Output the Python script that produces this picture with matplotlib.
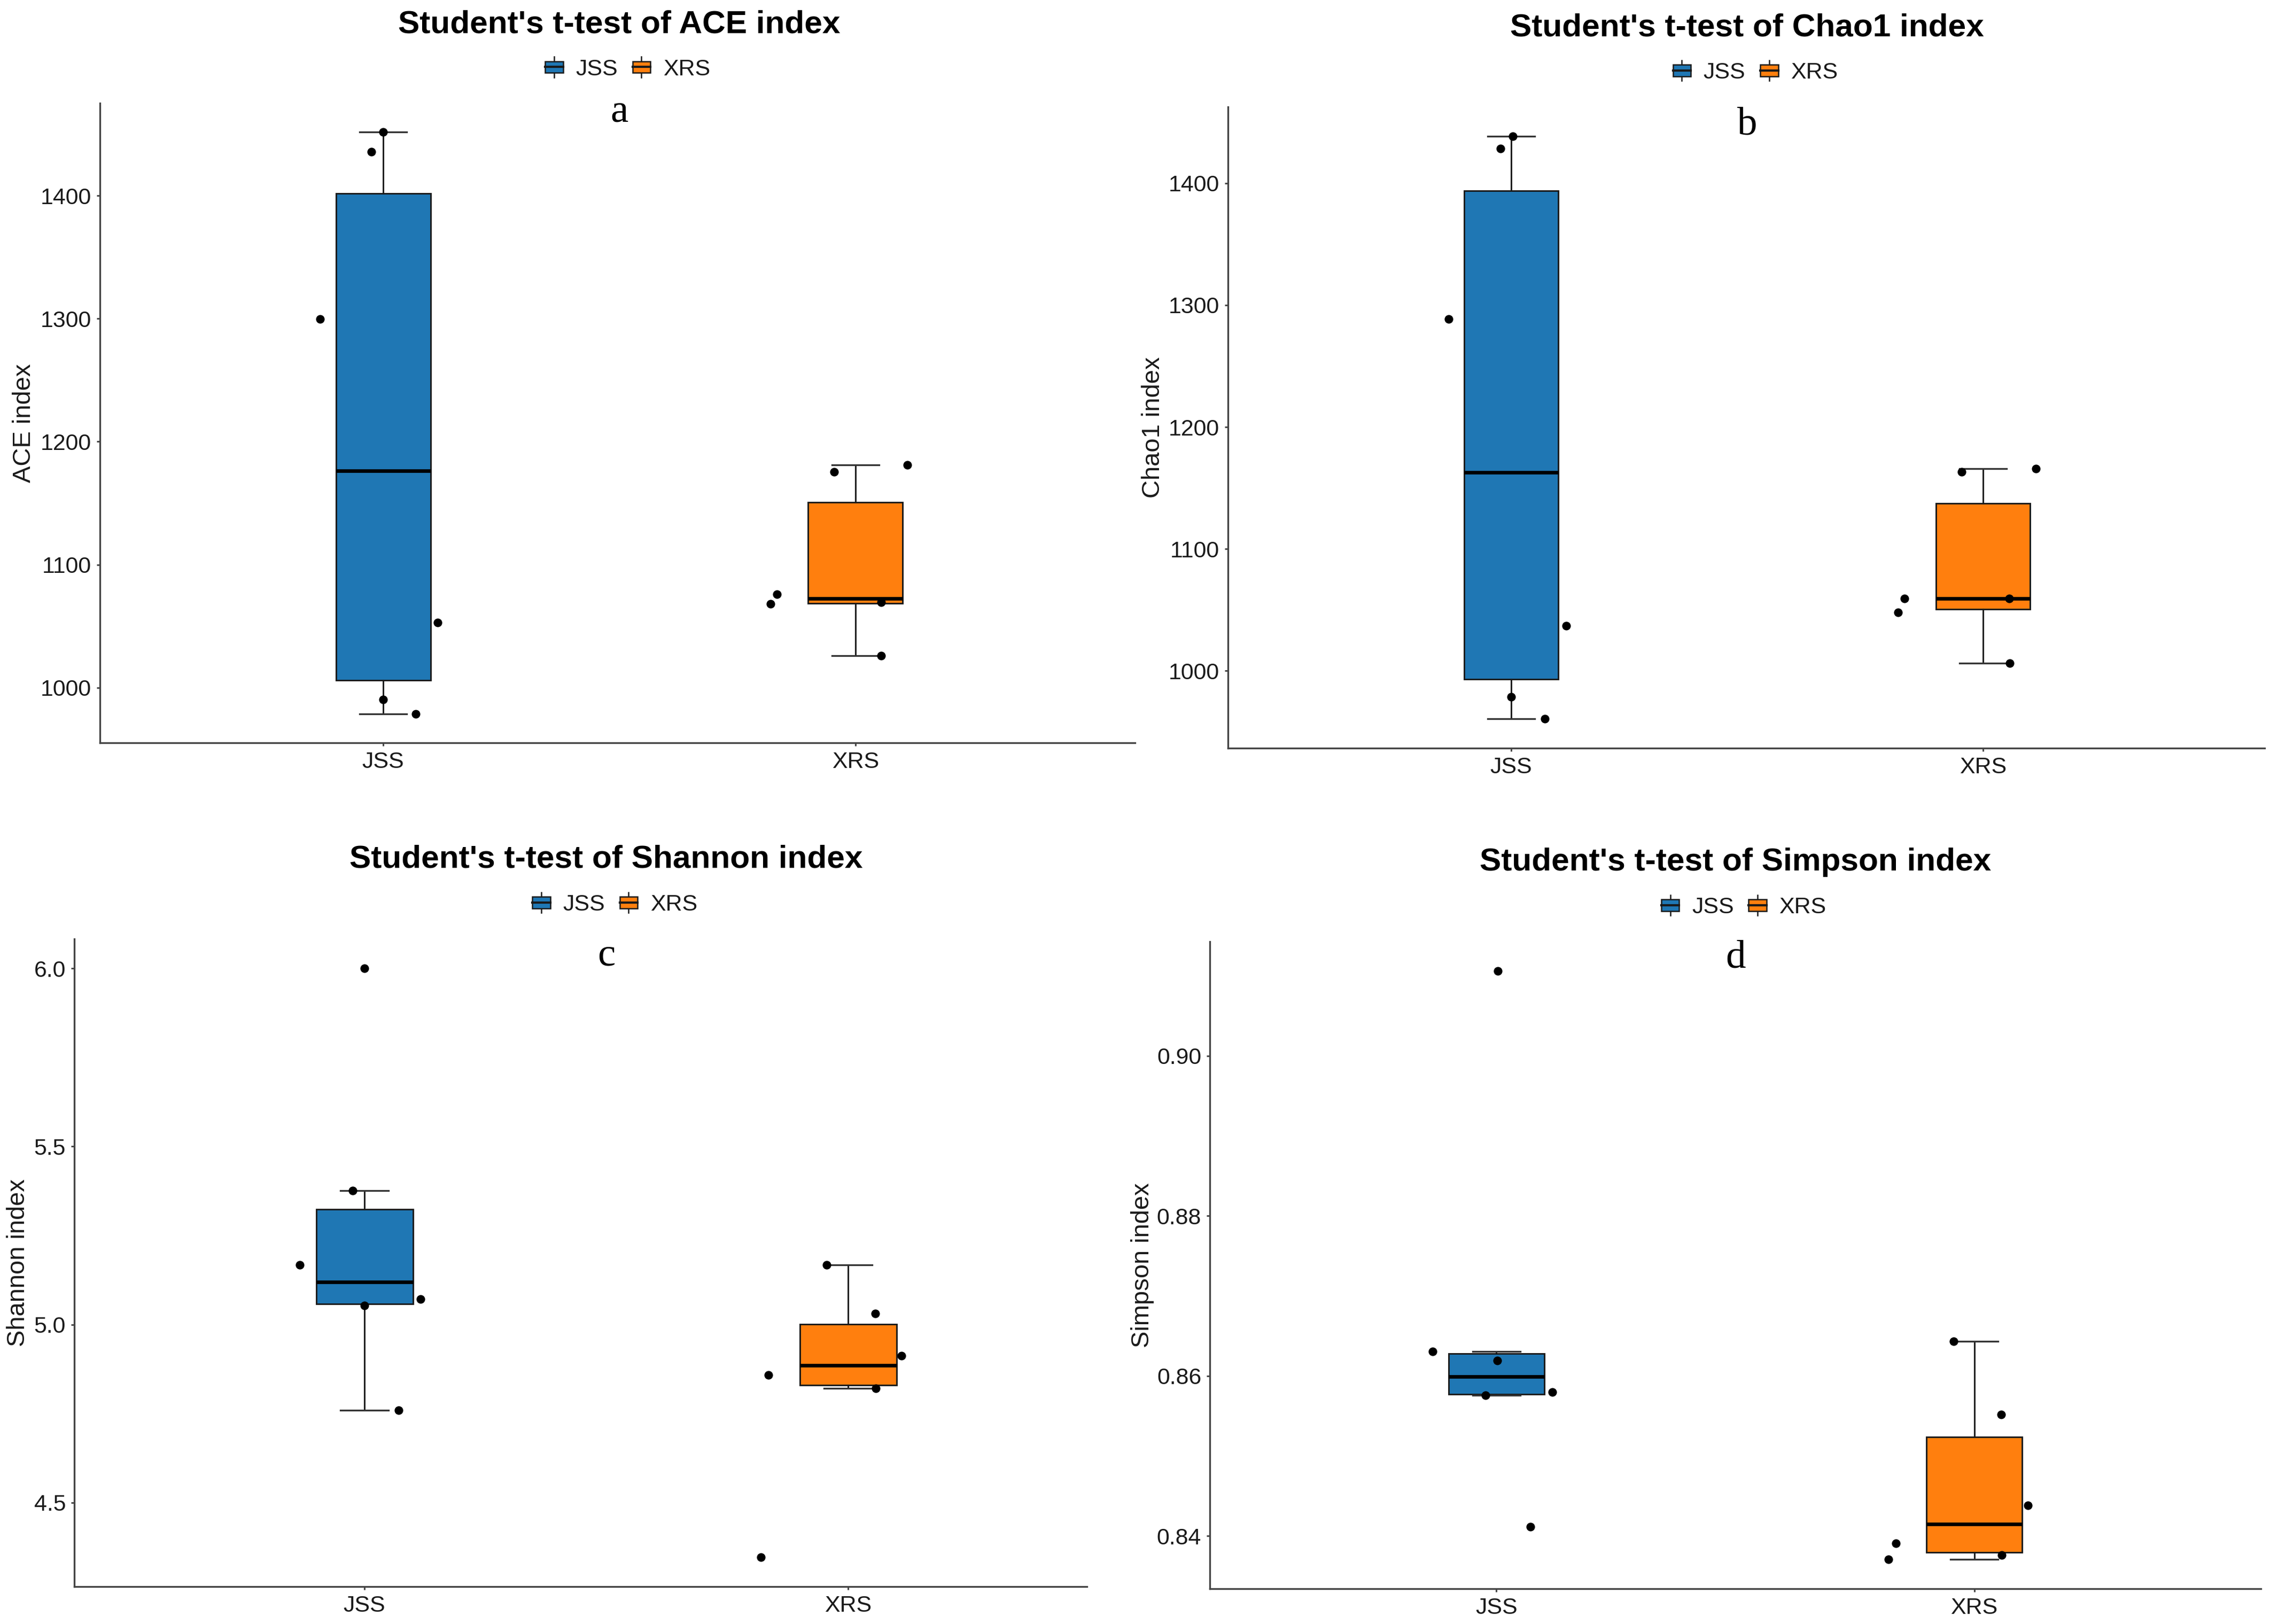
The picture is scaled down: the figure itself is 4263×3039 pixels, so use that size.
import matplotlib
matplotlib.use('Agg')
import matplotlib.pyplot as plt
from matplotlib.patches import Rectangle, Patch
from matplotlib.lines import Line2D
from matplotlib.legend_handler import HandlerBase
import numpy as np

# ---------------- data ----------------
groups = ['JSS', 'XRS']
group_colors = ['#1F77B4', '#FF7F0E']

ace_jss = [1451.6, 1435.8, 1299.7, 1052.9, 990.4, 978.8]
ace_xrs = [1175.6, 1181.0, 1068.3, 1075.8, 1069.5, 1025.8]
ace_jit_jss = [0.0, -0.025, -0.134, 0.115, 0.0, 0.069]
ace_jit_xrs = [-0.045, 0.11, -0.18, -0.166, 0.054, 0.055]

chao_jss = [1438.7, 1428.6, 1288.7, 1037.0, 978.6, 960.5]
chao_xrs = [1163.4, 1166.0, 1047.9, 1059.2, 1059.2, 1006.3]
chao_jit_jss = [0.003, -0.023, -0.132, 0.117, 0.0, 0.072]
chao_jit_xrs = [-0.045, 0.112, -0.18, -0.166, 0.055, 0.057]

shan_jss = [6.0, 5.3755, 5.168, 5.072, 5.054, 4.760]
shan_xrs = [5.168, 5.031, 4.913, 4.859, 4.821, 4.347]
shan_jit_jss = [0.0, -0.024, -0.134, 0.116, 0.0, 0.071]
shan_jit_xrs = [-0.044, 0.056, 0.111, -0.165, 0.057, -0.18]

simp_jss = [0.9106, 0.86306, 0.86189, 0.85759, 0.85798, 0.84111]
simp_xrs = [0.8643, 0.85518, 0.84384, 0.83909, 0.83759, 0.83707]
simp_jit_jss = [0.003, -0.134, 0.0015, -0.023, 0.117, 0.071]
simp_jit_xrs = [-0.043, 0.056, 0.112, -0.164, 0.058, -0.18]

ticks_ace = [1000, 1100, 1200, 1300, 1400]
ticks_chao = [1000, 1100, 1200, 1300, 1400]
ticks_shan = [4.5, 5.0, 5.5, 6.0]
ticks_simp = [0.84, 0.86, 0.88, 0.90]
labels_ace = ['1000', '1100', '1200', '1300', '1400']
labels_chao = ['1000', '1100', '1200', '1300', '1400']
labels_shan = ['4.5', '5.0', '5.5', '6.0']
labels_simp = ['0.84', '0.86', '0.88', '0.90']

titles = ["Student's t-test of ACE index", "Student's t-test of Chao1 index",
          "Student's t-test of Shannon index", "Student's t-test of Simpson index"]
ylabels = ['ACE index', 'Chao1 index', 'Shannon index', 'Simpson index']
letters = ['a', 'b', 'c', 'd']

# ---------------- figure ----------------
W, H = 4263, 3039
DPI = 300
fig = plt.figure(figsize=(W / DPI, H / DPI), dpi=DPI)
fig.patch.set_facecolor('white')

SANS = ['Liberation Sans', 'DejaVu Sans']
SERIF = ['Liberation Serif', 'DejaVu Serif']


class BoxKey(HandlerBase):
    def create_artists(self, legend, orig_handle, xdescent, ydescent,
                       width, height, fontsize, trans):
        fc = orig_handle.get_facecolor()
        x0, y0 = -xdescent, -ydescent
        bh = height * 0.8
        by = y0 + (height - bh) / 2
        rect = Rectangle((x0, by), width, bh, facecolor=fc,
                         edgecolor='#1a1a1a', linewidth=0.6, transform=trans)
        cx = x0 + width / 2
        med = Line2D([x0, x0 + width], [by + bh / 2] * 2, color='#1a1a1a',
                     linewidth=1.0, transform=trans)
        w1 = Line2D([cx, cx], [by - height * 0.3, by], color='#1a1a1a',
                    linewidth=0.6, transform=trans)
        w2 = Line2D([cx, cx], [by + bh, by + bh + height * 0.3], color='#1a1a1a',
                    linewidth=0.6, transform=trans)
        return [w1, w2, rect, med]


def px_axes(l, t, r, b):
    return fig.add_axes([l / W, 1 - b / H, (r - l) / W, (b - t) / H])


XLIM = (0.4, 2.6)

panels = [
    dict(rect=(187, 193, 2131, 1390), spine_end=2124, jss=ace_jss, xrs=ace_xrs,
         jj=ace_jit_jss, jx=ace_jit_xrs, ticks=ticks_ace, tlabels=labels_ace,
         ylab_off=142, letter_y=0.971),
    dict(rect=(2298, 200, 4241, 1400), spine_end=4238, jss=chao_jss, xrs=chao_xrs,
         jj=chao_jit_jss, jx=chao_jit_xrs, ticks=ticks_chao, tlabels=labels_chao,
         ylab_off=140, letter_y=0.957),
    dict(rect=(139, 1757, 2130, 2969), spine_end=2034, jss=shan_jss, xrs=shan_xrs,
         jj=shan_jit_jss, jx=shan_jit_xrs, ticks=ticks_shan, tlabels=labels_shan,
         ylab_off=105, letter_y=0.959),
    dict(rect=(2264, 1762, 4231, 2973), spine_end=4231, jss=simp_jss, xrs=simp_xrs,
         jj=simp_jit_jss, jx=simp_jit_xrs, ticks=ticks_simp, tlabels=labels_simp,
         ylab_off=126, letter_y=0.960),
]

positions = [1, 2]
for i, p in enumerate(panels):
    ax = px_axes(*p['rect'])
    l, t, r, b = p['rect']
    axw = r - l
    data = [p['jss'], p['xrs']]
    bp = ax.boxplot(data, positions=positions, widths=0.2, patch_artist=True,
                    showfliers=False, capwidths=0.1, whis=1.5,
                    boxprops=dict(linewidth=0.7, edgecolor='#1a1a1a'),
                    medianprops=dict(color='black', linewidth=1.6),
                    whiskerprops=dict(color='#1a1a1a', linewidth=0.7),
                    capprops=dict(color='#333333', linewidth=0.8))
    for patch, c in zip(bp['boxes'], group_colors):
        patch.set_facecolor(c)
    jit = [p['jj'], p['jx']]
    for pos, vals, jj in zip(positions, data, jit):
        ax.scatter(np.array(jj) + pos, vals, s=15, color='black', zorder=5,
                   linewidths=0)
    ax.set_xlim(*XLIM)
    ax.set_yticks(p['ticks'])
    ax.set_yticklabels(p['tlabels'])
    ax.set_xticks(positions)
    ax.set_xticklabels(groups)
    for lab in ax.get_xticklabels() + ax.get_yticklabels():
        lab.set_fontfamily(SANS)
        lab.set_fontsize(10.3)
        lab.set_color('#1a1a1a')
    ax.tick_params(axis='both', length=1.4, width=0.7, color='#444444', pad=2.4)
    for s in ['top', 'right']:
        ax.spines[s].set_visible(False)
    for s in ['left', 'bottom']:
        ax.spines[s].set_color('#444444')
        ax.spines[s].set_linewidth(0.8)
    xend = XLIM[0] + (p['spine_end'] - l) / axw * (XLIM[1] - XLIM[0])
    ax.spines['bottom'].set_bounds(XLIM[0], xend)
    ax.set_ylabel(ylabels[i], fontsize=11.3, family=SANS, color='#1a1a1a')
    ax.yaxis.label.set_va('center')
    ax.yaxis.set_label_coords(-p['ylab_off'] / axw, 0.5)
    # title and legend above the panel
    ax.text(0.5, 1.123, titles[i], transform=ax.transAxes, ha='center', va='center',
            fontsize=14.5, fontweight='bold', family=SANS, color='black')
    handles = [Patch(facecolor=c) for c in group_colors]
    leg = ax.legend(handles, groups, loc='center', bbox_to_anchor=(0.508, 1.053),
                    ncol=2, frameon=False, handler_map={Patch: BoxKey()},
                    prop=dict(family=SANS, size=10.3), handlelength=0.78,
                    handleheight=0.6, handletextpad=0.55, columnspacing=0.65,
                    borderpad=0, borderaxespad=0)
    for tx in leg.get_texts():
        tx.set_color('#1a1a1a')
    ax.text(0.5, p['letter_y'], letters[i], transform=ax.transAxes, ha='center',
            va='baseline', fontsize=18, family=SERIF, color='black')

fig.savefig('out.png', dpi=DPI, facecolor='white')
